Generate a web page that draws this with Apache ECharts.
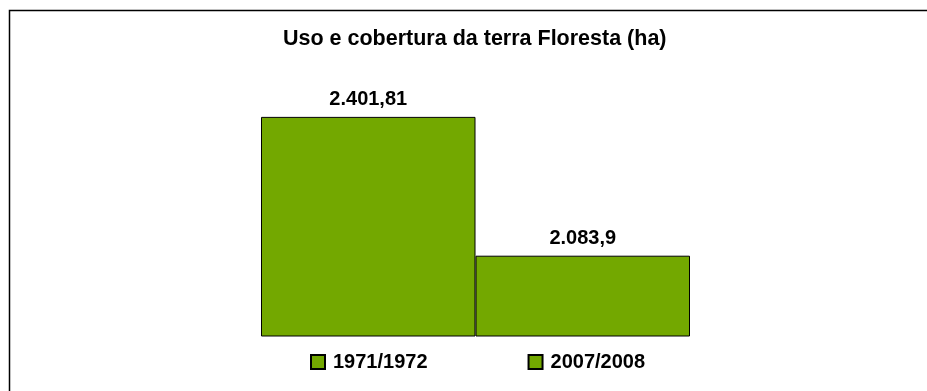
<!DOCTYPE html>
<html>
<head>
<meta charset="utf-8">
<script src="https://cdn.jsdelivr.net/npm/echarts@6/dist/echarts.min.js"></script>
<style>
  html, body { margin: 0; padding: 0; background: #fff; }
  #chart { width: 927px; height: 391px; }
</style>
</head>
<body>
<div id="chart"></div>
<script>
// Forest land use and cover (hectares) for two survey periods
const titleText = 'Uso e cobertura da terra Floresta (ha)';
const categories = ['Floresta'];
const periods = ['1971/1972', '2007/2008'];
const values1971 = [2401.81];
const values2007 = [2083.9];
const barColor = '#73A800';

// Brazilian number format: dot for thousands, comma for decimals
function formatBR(v) {
  const parts = String(v).split('.');
  const intPart = parts[0].replace(/\B(?=(\d{3})+(?!\d))/g, '.');
  return parts.length > 1 ? intPart + ',' + parts[1] : intPart;
}

const font = '"Liberation Sans", Arial, sans-serif';

const labelStyle = {
  show: true,
  position: 'top',
  distance: 7,
  color: '#000',
  fontFamily: font,
  fontWeight: 'bold',
  fontSize: 20,
  formatter: p => formatBR(p.value)
};

const chart = echarts.init(document.getElementById('chart'), null, { renderer: 'canvas' });
chart.setOption({
  backgroundColor: '#fff',
  animation: false,
  title: {
    text: titleText,
    left: 283,
    top: 28,
    padding: 0,
    textStyle: { fontFamily: font, fontWeight: 'bold', fontSize: 21.5, color: '#000' }
  },
  legend: {
    data: periods,
    left: 310,
    top: 352,
    padding: 0,
    itemWidth: 14,
    itemHeight: 14,
    itemGap: 100,
    icon: 'rect',
    textStyle: { fontFamily: font, fontWeight: 'bold', fontSize: 20, color: '#000', padding: [0, 0, 0, 3] }
  },
  grid: { left: 261, right: 237, top: 74, bottom: 55 },
  xAxis: {
    type: 'category',
    data: categories,
    show: false
  },
  yAxis: {
    type: 'value',
    min: 1900,
    max: 2500,
    show: false
  },
  graphic: [{
    type: 'polyline',
    silent: true,
    shape: { points: [[9.5, 400], [9.5, 10.5], [930, 10.5]] },
    style: { stroke: '#000', lineWidth: 1.5, fill: null }
  }],
  series: [
    {
      name: periods[0],
      type: 'bar',
      data: values1971,
      barGap: '0%',
      barCategoryGap: '0%',
      itemStyle: { color: barColor, borderColor: '#000', borderWidth: 1 },
      label: labelStyle
    },
    {
      name: periods[1],
      type: 'bar',
      data: values2007,
      barGap: '0%',
      barCategoryGap: '0%',
      itemStyle: { color: barColor, borderColor: '#000', borderWidth: 1 },
      label: labelStyle
    }
  ]
});
</script>
</body>
</html>
